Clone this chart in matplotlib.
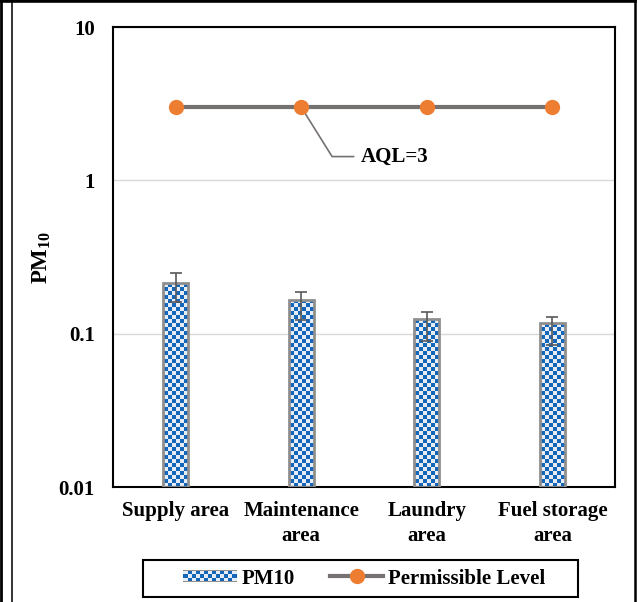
import numpy as np
import matplotlib
matplotlib.use("Agg")
import matplotlib.pyplot as plt
from matplotlib.patches import Rectangle
from matplotlib.lines import Line2D
from matplotlib.legend_handler import HandlerBase
from matplotlib.transforms import blended_transform_factory
from matplotlib.colors import ListedColormap

categories = ["Supply area", "Maintenance\narea", "Laundry\narea", "Fuel storage\narea"]
pm10 = [0.205, 0.155, 0.114, 0.107]
pm10_err = [0.045, 0.032, 0.025, 0.022]
permissible = [3, 3, 3, 3]
ytick_vals = [0.01, 0.1, 1, 10]
ytick_labels = ["0.01", "0.1", "1", "10"]

plt.rcParams["font.family"] = ["Liberation Serif", "DejaVu Serif"]
plt.rcParams["font.weight"] = "bold"
plt.rcParams["mathtext.fontset"] = "custom"
plt.rcParams["mathtext.rm"] = "Liberation Serif:bold"
plt.rcParams["mathtext.bf"] = "Liberation Serif:bold"
plt.rcParams["mathtext.it"] = "Liberation Serif:bold"
plt.rcParams["mathtext.default"] = "bf"

BLUE = "#1467B8"
LIGHT = "#E6EDF6"
ORANGE = "#ED7D31"
GRAY = "#767171"
FS = 15

fig = plt.figure(figsize=(6.38, 6.02), dpi=100)
ax = fig.add_axes([0.1771, 0.191, 0.787, 0.764])

x = np.arange(len(categories))
bar_w = 0.2
ax.set_yscale("log")
ax.set_ylim(0.01, 10)

ax.grid(axis="y", which="major", color="#d9d9d9", linewidth=1)
ax.set_axisbelow(True)

# checkerboard bars: an image clipped to each bar rectangle
trans = blended_transform_factory(ax.transData, ax.transAxes)
n_rows, n_cols = 115, 6
cb = (np.add.outer(np.arange(n_rows), np.arange(n_cols)) % 2).astype(float)
cmap = ListedColormap([LIGHT, BLUE])
bars = ax.bar(x, pm10, width=bar_w, bottom=0.01, color="none",
              edgecolor="#8f8f8f", linewidth=2, zorder=3)
for xi, b in zip(x, bars):
    im = ax.imshow(cb, cmap=cmap, extent=(xi - bar_w / 2, xi + bar_w / 2, 0, 1),
                   transform=trans, interpolation="nearest", aspect="auto", zorder=2)
    im.set_clip_path(b)
ax.set_xlim(-0.5, len(categories) - 0.5)

ax.errorbar(x, pm10, yerr=pm10_err, fmt="none", ecolor="#595959",
            elinewidth=1.2, capsize=4.5, capthick=1.2, zorder=4)

ax.plot(x, permissible, color=GRAY, linewidth=3, marker="o", markersize=10,
        markerfacecolor=ORANGE, markeredgecolor=ORANGE, zorder=5)

ax.annotate("AQL=3", xy=(x[1], permissible[1]), xytext=(1.747, 1.43),
            ha="center", va="center", fontsize=FS, fontweight="bold",
            arrowprops=dict(arrowstyle="-", color=GRAY, linewidth=1.2,
                            connectionstyle="angle,angleA=0,angleB=122,rad=0",
                            shrinkA=0, shrinkB=0, relpos=(-0.11, 0.5)))

ax.set_yticks(ytick_vals)
ax.set_yticklabels(ytick_labels)
ax.yaxis.set_minor_locator(matplotlib.ticker.NullLocator())
ax.set_xticks(x)
ax.set_xticklabels(categories, linespacing=1.35)
ax.tick_params(axis="both", length=0, labelsize=FS)
ax.tick_params(axis="y", pad=13)
ax.tick_params(axis="x", pad=10)
for lab in ax.get_xticklabels() + ax.get_yticklabels():
    lab.set_fontweight("bold")

ax.set_ylabel("PM$_{10}$", fontsize=16.5, fontweight="bold", labelpad=4)

for s in ax.spines.values():
    s.set_color("black")
    s.set_linewidth(1.5)


class CheckerHandler(HandlerBase):
    def create_artists(self, legend, orig_handle, xdescent, ydescent,
                       width, height, fontsize, trans):
        arts = []
        h = height * 0.85
        y0 = -ydescent + (height - h) / 2
        arts.append(Rectangle((-xdescent, y0), width, h,
                              facecolor="#8f8f8f", edgecolor="none", transform=trans))
        nc, nr = 13, 3
        cw, ch = width / nc, h / (nr + 0.6)
        for i in range(nc):
            for j in range(nr):
                c = BLUE if (i + j) % 2 else LIGHT
                arts.append(Rectangle((-xdescent + i * cw, y0 + ch * 0.3 + j * ch),
                                      cw, ch, facecolor=c, edgecolor="none",
                                      transform=trans))
        return arts


W, H = 638, 602
bar_handle = Rectangle((0, 0), 1, 1)
line_handle = Line2D([], [], color=GRAY, linewidth=3, marker="o", markersize=10,
                     markerfacecolor=ORANGE, markeredgecolor=ORANGE)
leg = fig.legend([bar_handle, line_handle], ["PM10", "Permissible Level"],
                 loc="center", bbox_to_anchor=(364.5 / W, 1 - 578.5 / H), ncol=2,
                 handler_map={Rectangle: CheckerHandler()},
                 prop={"size": FS, "weight": "bold"}, frameon=False,
                 handlelength=2.55, handletextpad=0.24, columnspacing=1.7,
                 borderpad=0.2)

# legend frame
fig.add_artist(Rectangle((143 / W, 1 - 597 / H), (578 - 143) / W, 37 / H,
                         transform=fig.transFigure, facecolor="none",
                         edgecolor="black", linewidth=1.5))

# outer border lines
def fl(x0, y0, x1, y1, lw, c="black"):
    fig.add_artist(Line2D([x0 / W, x1 / W], [1 - y0 / H, 1 - y1 / H],
                          transform=fig.transFigure, color=c, linewidth=lw))
fl(1, 0, 1, H, 2.0)
fl(11.5, 3, 11.5, H, 1.3, "#222222")
fl(0, 1.3, 635, 1.3, 2.6)
fl(634.5, 0, 634.5, H, 1.8)

fig.savefig("out.png", dpi=100)
